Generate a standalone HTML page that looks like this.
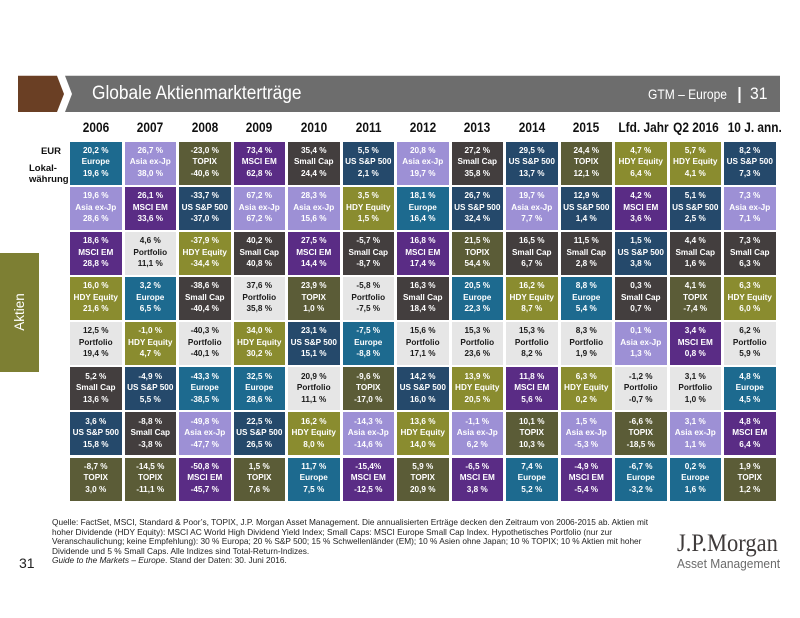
<!DOCTYPE html>
<html><head><meta charset="utf-8">
<style>
*{margin:0;padding:0;box-sizing:border-box}
html,body{width:800px;height:618px;background:#fff;overflow:hidden}
body{position:relative;font-family:"Liberation Sans",Arial,sans-serif}
.abs{position:absolute}
.grid{position:absolute;left:70px;top:141.7px;display:grid;grid-template-columns:repeat(13,51.5px);column-gap:3px;grid-auto-rows:43px;row-gap:2.14px}
.grid div{text-align:center;font-size:8.2px;font-weight:bold;line-height:11.5px;padding-top:3.3px;color:#fff;white-space:nowrap;overflow:visible}
.eu{background:#1d6a8f}
.as{background:#9d90d5}
.tp{background:#5b5c37}
.em{background:#5a2c85}
.sc{background:#433e3e}
.us{background:#25496b}
.hd{background:#8a8c2f}
.grid .pf{background:#e6e6e6;color:#1a1a1a}
.hdr{position:absolute;left:70px;top:119px;display:grid;grid-template-columns:repeat(13,51.5px);column-gap:3px}
.hdr div{text-align:center;font-size:13.5px;font-weight:bold;line-height:18px;white-space:nowrap;color:#111}
.hdr span{display:inline-block;transform:scaleX(0.88)}
.foot{position:absolute;left:52px;top:518.3px;font-size:8.3px;line-height:9.4px;color:#222;white-space:nowrap}
</style></head><body>
<!-- title bar -->
<svg class="abs" style="left:0;top:0" width="800" height="130">
<polygon points="18,75.7 57,75.7 64,94 57,112 18,112" fill="#6a3f24"/>
<polygon points="65,75.7 780,75.7 780,112 65,112 72,94" fill="#6d6d6d"/>
<rect x="738.5" y="87" width="2" height="16" fill="#fff"/>
</svg>
<div class="abs" style="left:92px;top:83px;font-size:19px;line-height:22px;color:#fff;white-space:nowrap"><span style="display:inline-block;transform:scaleX(0.91);transform-origin:left center">Globale Aktienmarkterträge</span></div>
<div class="abs" style="left:648px;top:85px;font-size:14px;line-height:18px;color:#fff;white-space:nowrap"><span style="display:inline-block;transform:scaleX(0.86);transform-origin:left center">GTM – Europe</span></div>
<div class="abs" style="left:750px;top:84px;font-size:16.5px;line-height:20px;color:#fff;white-space:nowrap"><span style="display:inline-block;transform:scaleX(0.95);transform-origin:left center">31</span></div>

<!-- side labels -->
<div class="abs" style="right:739px;top:146px;font-size:9.5px;font-weight:bold;line-height:11px;color:#111">EUR</div>
<div class="abs" style="left:29px;top:162.5px;font-size:9.5px;font-weight:bold;line-height:11px;color:#111">Lokal-</div>
<div class="abs" style="left:29px;top:173.5px;font-size:9.5px;font-weight:bold;line-height:11px;color:#111">währung</div>
<div class="abs" style="left:0;top:253px;width:39px;height:119px;background:#7d7f33"></div>
<div class="abs" style="left:-20px;top:303px;width:80px;height:18px;line-height:18px;text-align:center;color:#fff;font-size:13.5px;transform:rotate(-90deg)">Aktien</div>

<!-- headers -->
<div class="hdr">
<div><span>2006</span></div><div><span>2007</span></div><div><span>2008</span></div><div><span>2009</span></div><div><span>2010</span></div><div><span>2011</span></div><div><span>2012</span></div><div><span>2013</span></div><div><span>2014</span></div><div><span>2015</span></div><div><span>Lfd. Jahr</span></div><div><span>Q2 2016</span></div><div><span>10 J. ann.</span></div>
</div>

<div class="grid">
<!-- row 1 -->
<div class="eu">20,2 %<br>Europe<br>19,6 %</div>
<div class="as">26,7 %<br>Asia ex-Jp<br>38,0 %</div>
<div class="tp">-23,0 %<br>TOPIX<br>-40,6 %</div>
<div class="em">73,4 %<br>MSCI EM<br>62,8 %</div>
<div class="sc">35,4 %<br>Small Cap<br>24,4 %</div>
<div class="us">5,5 %<br>US S&amp;P 500<br>2,1 %</div>
<div class="as">20,8 %<br>Asia ex-Jp<br>19,7 %</div>
<div class="sc">27,2 %<br>Small Cap<br>35,8 %</div>
<div class="us">29,5 %<br>US S&amp;P 500<br>13,7 %</div>
<div class="tp">24,4 %<br>TOPIX<br>12,1 %</div>
<div class="hd">4,7 %<br>HDY Equity<br>6,4 %</div>
<div class="hd">5,7 %<br>HDY Equity<br>4,1 %</div>
<div class="us">8,2 %<br>US S&amp;P 500<br>7,3 %</div>
<!-- row 2 -->
<div class="as">19,6 %<br>Asia ex-Jp<br>28,6 %</div>
<div class="em">26,1 %<br>MSCI EM<br>33,6 %</div>
<div class="us">-33,7 %<br>US S&amp;P 500<br>-37,0 %</div>
<div class="as">67,2 %<br>Asia ex-Jp<br>67,2 %</div>
<div class="as">28,3 %<br>Asia ex-Jp<br>15,6 %</div>
<div class="hd">3,5 %<br>HDY Equity<br>1,5 %</div>
<div class="eu">18,1 %<br>Europe<br>16,4 %</div>
<div class="us">26,7 %<br>US S&amp;P 500<br>32,4 %</div>
<div class="as">19,7 %<br>Asia ex-Jp<br>7,7 %</div>
<div class="us">12,9 %<br>US S&amp;P 500<br>1,4 %</div>
<div class="em">4,2 %<br>MSCI EM<br>3,6 %</div>
<div class="us">5,1 %<br>US S&amp;P 500<br>2,5 %</div>
<div class="as">7,3 %<br>Asia ex-Jp<br>7,1 %</div>
<!-- row 3 -->
<div class="em">18,6 %<br>MSCI EM<br>28,8 %</div>
<div class="pf">4,6 %<br>Portfolio<br>11,1 %</div>
<div class="hd">-37,9 %<br>HDY Equity<br>-34,4 %</div>
<div class="sc">40,2 %<br>Small Cap<br>40,8 %</div>
<div class="em">27,5 %<br>MSCI EM<br>14,4 %</div>
<div class="sc">-5,7 %<br>Small Cap<br>-8,7 %</div>
<div class="em">16,8 %<br>MSCI EM<br>17,4 %</div>
<div class="tp">21,5 %<br>TOPIX<br>54,4 %</div>
<div class="sc">16,5 %<br>Small Cap<br>6,7 %</div>
<div class="sc">11,5 %<br>Small Cap<br>2,8 %</div>
<div class="us">1,5 %<br>US S&amp;P 500<br>3,8 %</div>
<div class="sc">4,4 %<br>Small Cap<br>1,6 %</div>
<div class="sc">7,3 %<br>Small Cap<br>6,3 %</div>
<!-- row 4 -->
<div class="hd">16,0 %<br>HDY Equity<br>21,6 %</div>
<div class="eu">3,2 %<br>Europe<br>6,5 %</div>
<div class="sc">-38,6 %<br>Small Cap<br>-40,4 %</div>
<div class="pf">37,6 %<br>Portfolio<br>35,8 %</div>
<div class="tp">23,9 %<br>TOPIX<br>1,0 %</div>
<div class="pf">-5,8 %<br>Portfolio<br>-7,5 %</div>
<div class="sc">16,3 %<br>Small Cap<br>18,4 %</div>
<div class="eu">20,5 %<br>Europe<br>22,3 %</div>
<div class="hd">16,2 %<br>HDY Equity<br>8,7 %</div>
<div class="eu">8,8 %<br>Europe<br>5,4 %</div>
<div class="sc">0,3 %<br>Small Cap<br>0,7 %</div>
<div class="tp">4,1 %<br>TOPIX<br>-7,4 %</div>
<div class="hd">6,3 %<br>HDY Equity<br>6,0 %</div>
<!-- row 5 -->
<div class="pf">12,5 %<br>Portfolio<br>19,4 %</div>
<div class="hd">-1,0 %<br>HDY Equity<br>4,7 %</div>
<div class="pf">-40,3 %<br>Portfolio<br>-40,1 %</div>
<div class="hd">34,0 %<br>HDY Equity<br>30,2 %</div>
<div class="us">23,1 %<br>US S&amp;P 500<br>15,1 %</div>
<div class="eu">-7,5 %<br>Europe<br>-8,8 %</div>
<div class="pf">15,6 %<br>Portfolio<br>17,1 %</div>
<div class="pf">15,3 %<br>Portfolio<br>23,6 %</div>
<div class="pf">15,3 %<br>Portfolio<br>8,2 %</div>
<div class="pf">8,3 %<br>Portfolio<br>1,9 %</div>
<div class="as">0,1 %<br>Asia ex-Jp<br>1,3 %</div>
<div class="em">3,4 %<br>MSCI EM<br>0,8 %</div>
<div class="pf">6,2 %<br>Portfolio<br>5,9 %</div>
<!-- row 6 -->
<div class="sc">5,2 %<br>Small Cap<br>13,6 %</div>
<div class="us">-4,9 %<br>US S&amp;P 500<br>5,5 %</div>
<div class="eu">-43,3 %<br>Europe<br>-38,5 %</div>
<div class="eu">32,5 %<br>Europe<br>28,6 %</div>
<div class="pf">20,9 %<br>Portfolio<br>11,1 %</div>
<div class="tp">-9,6 %<br>TOPIX<br>-17,0 %</div>
<div class="us">14,2 %<br>US S&amp;P 500<br>16,0 %</div>
<div class="hd">13,9 %<br>HDY Equity<br>20,5 %</div>
<div class="em">11,8 %<br>MSCI EM<br>5,6 %</div>
<div class="hd">6,3 %<br>HDY Equity<br>0,2 %</div>
<div class="pf">-1,2 %<br>Portfolio<br>-0,7 %</div>
<div class="pf">3,1 %<br>Portfolio<br>1,0 %</div>
<div class="eu">4,8 %<br>Europe<br>4,5 %</div>
<!-- row 7 -->
<div class="us">3,6 %<br>US S&amp;P 500<br>15,8 %</div>
<div class="sc">-8,8 %<br>Small Cap<br>-3,8 %</div>
<div class="as">-49,8 %<br>Asia ex-Jp<br>-47,7 %</div>
<div class="us">22,5 %<br>US S&amp;P 500<br>26,5 %</div>
<div class="hd">16,2 %<br>HDY Equity<br>8,0 %</div>
<div class="as">-14,3 %<br>Asia ex-Jp<br>-14,6 %</div>
<div class="hd">13,6 %<br>HDY Equity<br>14,0 %</div>
<div class="as">-1,1 %<br>Asia ex-Jp<br>6,2 %</div>
<div class="tp">10,1 %<br>TOPIX<br>10,3 %</div>
<div class="as">1,5 %<br>Asia ex-Jp<br>-5,3 %</div>
<div class="tp">-6,6 %<br>TOPIX<br>-18,5 %</div>
<div class="as">3,1 %<br>Asia ex-Jp<br>1,1 %</div>
<div class="em">4,8 %<br>MSCI EM<br>6,4 %</div>
<!-- row 8 -->
<div class="tp">-8,7 %<br>TOPIX<br>3,0 %</div>
<div class="tp">-14,5 %<br>TOPIX<br>-11,1 %</div>
<div class="em">-50,8 %<br>MSCI EM<br>-45,7 %</div>
<div class="tp">1,5 %<br>TOPIX<br>7,6 %</div>
<div class="eu">11,7 %<br>Europe<br>7,5 %</div>
<div class="em">-15,4%<br>MSCI EM<br>-12,5 %</div>
<div class="tp">5,9 %<br>TOPIX<br>20,9 %</div>
<div class="em">-6,5 %<br>MSCI EM<br>3,8 %</div>
<div class="eu">7,4 %<br>Europe<br>5,2 %</div>
<div class="em">-4,9 %<br>MSCI EM<br>-5,4 %</div>
<div class="eu">-6,7 %<br>Europe<br>-3,2 %</div>
<div class="eu">0,2 %<br>Europe<br>1,6 %</div>
<div class="tp">1,9 %<br>TOPIX<br>1,2 %</div>
</div>

<!-- footnote -->
<div class="foot">Quelle: FactSet, MSCI, Standard &amp; Poor’s, TOPIX, J.P. Morgan Asset Management. Die annualisierten Erträge decken den Zeitraum von 2006-2015 ab. Aktien mit<br>hoher Dividende (HDY Equity): MSCI AC World High Dividend Yield Index; Small Caps: MSCI Europe Small Cap Index. Hypothetisches Portfolio (nur zur<br>Veranschaulichung; keine Empfehlung): 30 % Europa; 20 % S&amp;P 500; 15 % Schwellenländer (EM); 10 % Asien ohne Japan; 10 % TOPIX; 10 % Aktien mit hoher<br>Dividende und 5 % Small Caps. Alle Indizes sind Total-Return-Indizes.<br><i>Guide to the Markets – Europe</i>. Stand der Daten: 30. Juni 2016.</div>

<div class="abs" style="left:19px;top:555px;font-size:14px;line-height:16px;color:#222">31</div>

<!-- logo -->
<div class="abs" style="left:677px;top:530px;font-family:'Liberation Serif',serif;font-size:25px;line-height:28px;color:#3f3b3b;white-space:nowrap"><span style="display:inline-block;transform:scaleX(0.9);transform-origin:left center">J.P.Morgan</span></div>
<div class="abs" style="left:677px;top:556px;font-size:13px;line-height:16px;color:#6a6a6a;white-space:nowrap"><span style="display:inline-block;transform:scaleX(0.92);transform-origin:left center">Asset Management</span></div>
</body></html>
